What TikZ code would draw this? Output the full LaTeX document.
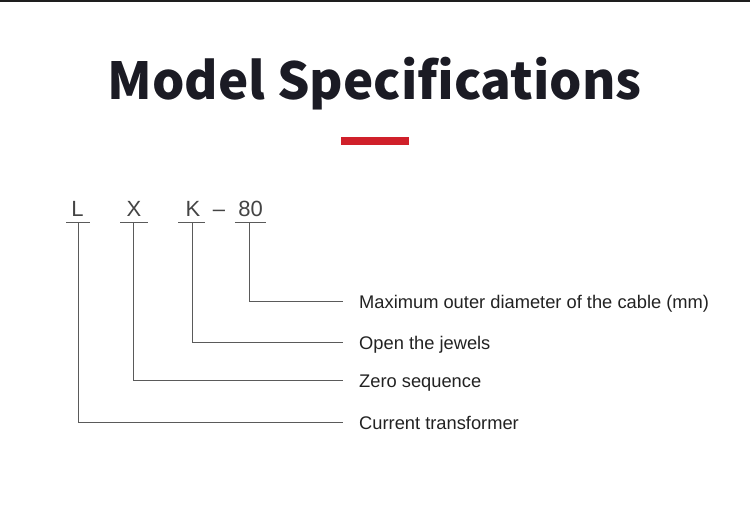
\documentclass[tikz,border=0pt]{standalone}
\usepackage{fontspec}
\setmainfont{Liberation Sans}
\newfontfamily\titlefont{Noto Sans CJK SC}
\usetikzlibrary{calc}
\definecolor{topbarc}{HTML}{1E1E1E}
\definecolor{titlec}{HTML}{1B1B24}
\definecolor{redc}{HTML}{D0202A}
\definecolor{linec}{HTML}{5A5A5A}
\definecolor{codec}{HTML}{444444}
\definecolor{labc}{HTML}{222222}
\tikzset{
  conn/.style={draw=linec, line width=1pt},
  codechar/.style={inner sep=0pt, anchor=base, text=codec, font=\fontsize{22}{22}\selectfont},
  lab/.style={inner sep=0pt, anchor=base west, text=labc, font=\fontsize{18.3}{18.3}\selectfont},
}
\begin{document}
\begin{tikzpicture}[x=1pt,y=-1pt]
\useasboundingbox (0,0) rectangle (750,510);
\fill[topbarc] (0,0) rectangle (750,2.5);
\node[inner sep=0pt, anchor=base, text=titlec, font=\titlefont\bfseries\fontsize{51}{51}\selectfont] (title) at (374.5,99.5) {Model Specifications};
\fill[redc] (341,137) rectangle (409,145);
% code characters
\node[codechar] (cL) at (77.5,217) {L};
\node[codechar] (cX) at (134,217) {X};
\node[codechar] (cK) at (193,217) {K};
\node[codechar] (cD) at (219,217) {–};
\node[codechar] (c80) at (250.7,217) {80};
% bar centres
\coordinate (bL) at (78.5,223);
\coordinate (bX) at (133.5,223);
\coordinate (bK) at (192.3,223);
\coordinate (b80) at (249.3,223);
\draw[conn] ($(bL)+(-12.5,0)$) -- ($(bL)+(11.5,0)$);
\draw[conn] ($(bX)+(-13.5,0)$) -- ($(bX)+(14,0)$);
\draw[conn] ($(bK)+(-14,0)$) -- ($(bK)+(13,0)$);
\draw[conn] ($(b80)+(-14.5,0)$) -- ($(b80)+(16.5,0)$);
% label ends
\coordinate (h80) at (343.3,301.7);
\coordinate (hK) at (343.3,342.7);
\coordinate (hX) at (343.3,380.7);
\coordinate (hL) at (343.3,422.7);
\draw[conn] (b80) |- (h80);
\draw[conn] (bK) |- (hK);
\draw[conn] (bX) |- (hX);
\draw[conn] (bL) |- (hL);
% labels
\node[lab] (d80) at (359,308.3) {Maximum outer diameter of the cable (mm)};
\node[lab] (dK) at (359,349.3) {Open the jewels};
\node[lab] (dX) at (359,387.3) {Zero sequence};
\node[lab] (dL) at (359,429.3) {Current transformer};
\end{tikzpicture}
\end{document}
